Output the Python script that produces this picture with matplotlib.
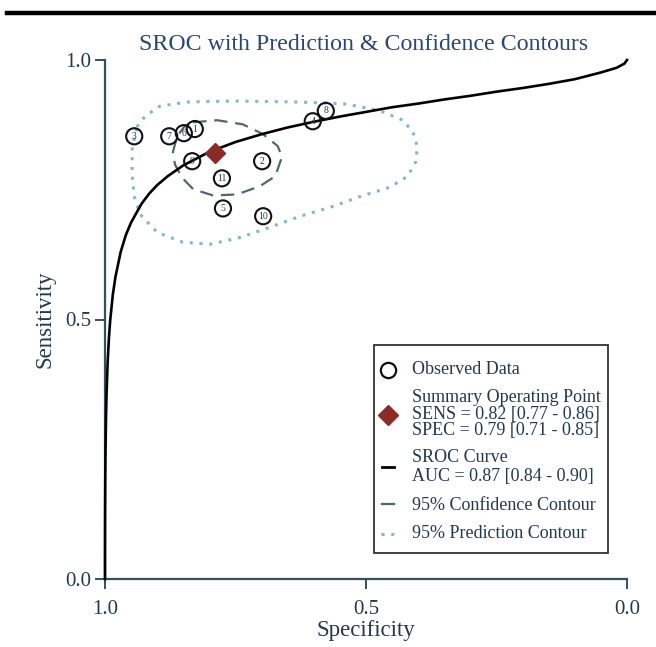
import matplotlib
matplotlib.use("Agg")
import matplotlib.pyplot as plt
from matplotlib.lines import Line2D
from matplotlib.patches import Rectangle

plt.rcParams['font.family'] = ['Liberation Serif', 'DejaVu Serif']

# ---------------- data ----------------
study_ids = ["1", "2", "3", "4", "5", "6", "7", "8", "9", "10", "11"]
study_spec = [0.828, 0.699, 0.944, 0.602, 0.774, 0.849, 0.877, 0.577, 0.833, 0.697, 0.776]
study_sens = [0.867, 0.805, 0.853, 0.882, 0.714, 0.859, 0.853, 0.902, 0.805, 0.699, 0.772]

summary_spec = 0.79
summary_sens = 0.82

# SROC curve (false positive rate -> sensitivity)
sroc_fpr = [0.0, 0.00001, 0.00005, 0.0001, 0.0002, 0.0005, 0.001, 0.002, 0.003, 0.005,
            0.0075, 0.01, 0.015, 0.02, 0.03, 0.04, 0.05, 0.07, 0.085, 0.10, 0.12, 0.15,
            0.20, 0.25, 0.30, 0.35, 0.40, 0.45, 0.50, 0.55, 0.60, 0.65, 0.70, 0.75,
            0.80, 0.85, 0.90, 0.95, 0.98, 0.995, 1.0]
sroc_sens = [0.0, 0.035, 0.072, 0.098, 0.131, 0.190, 0.247, 0.314, 0.357, 0.416,
             0.464, 0.499, 0.548, 0.582, 0.630, 0.663, 0.687, 0.723, 0.743, 0.759, 0.776, 0.797,
             0.823, 0.842, 0.857, 0.870, 0.881, 0.891, 0.900, 0.909, 0.916, 0.924, 0.931, 0.939,
             0.946, 0.954, 0.963, 0.976, 0.985, 0.993, 1.0]

# 95% confidence contour
conf_spec = [0.831, 0.785, 0.736, 0.697, 0.669, 0.661, 0.674, 0.703, 0.747, 0.793,
             0.831, 0.853, 0.866, 0.870, 0.862, 0.847, 0.831]
conf_sens = [0.880, 0.884, 0.876, 0.857, 0.834, 0.813, 0.776, 0.757, 0.741, 0.739,
             0.751, 0.774, 0.799, 0.822, 0.853, 0.873, 0.880]

# 95% prediction contour
pred_spec = [0.939, 0.923, 0.895, 0.843, 0.755, 0.626, 0.536, 0.473, 0.429, 0.410, 0.402,
             0.404, 0.420, 0.454, 0.511, 0.563, 0.626, 0.678, 0.741, 0.799, 0.851, 0.900,
             0.933, 0.944, 0.948, 0.948, 0.939]
pred_sens = [0.871, 0.892, 0.911, 0.919, 0.921, 0.919, 0.915, 0.902, 0.884, 0.861, 0.834,
             0.805, 0.776, 0.755, 0.737, 0.718, 0.699, 0.680, 0.658, 0.645, 0.649, 0.668,
             0.703, 0.737, 0.780, 0.828, 0.871]

title = "SROC with Prediction & Confidence Contours"
xlabel = "Specificity"
ylabel = "Sensitivity"
tick_vals = [0.0, 0.5, 1.0]
tick_labels = ["0.0", "0.5", "1.0"]
legend_lines = [
    ["Observed Data"],
    ["Summary Operating Point", "SENS = 0.82 [0.77 - 0.86]", "SPEC = 0.79 [0.71 - 0.85]"],
    ["SROC Curve", "AUC = 0.87 [0.84 - 0.90]"],
    ["95% Confidence Contour"],
    ["95% Prediction Contour"],
]

# ---------------- styling ----------------
W, H = 656, 647
TEXT = "#22384c"
TITLE = "#2a4672"
SPINE = "#34505c"
DIAMOND = "#8b2a2a"
CONF = "#4d6872"
PRED = "#86b6cc"

fig = plt.figure(figsize=(W / 100, H / 100), dpi=100)
fig.patch.set_facecolor("white")

def fx(px):
    return px / W

def fy(py):
    return 1 - py / H

ax = fig.add_axes([fx(105), fy(579), (627 - 105) / W, (579 - 60) / H])
ax.set_xlim(1.0, 0.0)
ax.set_ylim(0.0, 1.0)
for s in ("top", "right"):
    ax.spines[s].set_visible(False)
for s in ("left", "bottom"):
    ax.spines[s].set_color(SPINE)
    ax.spines[s].set_linewidth(1.6)
ax.set_xticks(tick_vals)
ax.set_xticklabels(tick_labels)
ax.set_yticks(tick_vals)
ax.set_yticklabels(tick_labels)
ax.tick_params(colors=SPINE, labelcolor=TEXT, labelsize=15, length=7, width=1.4)
ax.tick_params(axis="x", pad=8)
ax.tick_params(axis="y", pad=3)
ax.set_xlabel(xlabel, fontsize=16.5, color=TEXT, labelpad=1)
ax.set_ylabel(ylabel, fontsize=16.5, color=TEXT, labelpad=7)
fig.text(fx(364), fy(44), title, fontsize=17.2, color=TITLE, ha="center", va="center")

# prediction contour
ax.plot(pred_spec, pred_sens, linestyle=(0, (1, 2.2)), color=PRED, lw=2.2, zorder=2)
# confidence contour
ax.plot(conf_spec, conf_sens, linestyle=(0, (6, 3.5)), color=CONF, lw=1.6, zorder=3)
# SROC curve
sroc_spec = [1 - f for f in sroc_fpr]
ax.plot(sroc_spec, sroc_sens, color="black", lw=1.9, zorder=4, clip_on=False,
        solid_joinstyle="round")
# observed studies
ax.scatter(study_spec, study_sens, s=135, facecolors="none", edgecolors="#111111",
           linewidths=1.5, zorder=5)
for sid, sx, sy in zip(study_ids, study_spec, study_sens):
    ax.text(sx, sy, sid, fontsize=7, ha="center", va="center", color=TEXT, zorder=6)
# summary point
ax.plot([summary_spec], [summary_sens], marker="D", markersize=10, color=DIAMOND,
        linestyle="none", zorder=7)

# top rule
fig.add_artist(Line2D([fx(7), fx(656)], [fy(13), fy(13)], color="black", lw=3.2,
                      transform=fig.transFigure))

# ---------------- legend (manual) ----------------
fig.add_artist(Rectangle((fx(374), fy(553)), fx(608) - fx(374), fy(345) - fy(553),
                         transform=fig.transFigure, facecolor="white",
                         edgecolor="#333333", lw=1.3, zorder=10))
mx = 388
tx = 412
fs = 13.0
fig.add_artist(Line2D([fx(mx)], [fy(370)], marker="o", markersize=11, markerfacecolor="none",
                      markeredgecolor="#111111", markeredgewidth=1.6, linestyle="none",
                      transform=fig.transFigure, zorder=11))
group_y = [[370], [398, 415, 431], [458, 476], [505], [533]]
for lines, ys in zip(legend_lines, group_y):
    for t, yy in zip(lines, ys):
        fig.text(fx(tx), fy(yy), t, fontsize=fs, color=TEXT, ha="left", va="center", zorder=12)
fig.add_artist(Line2D([fx(mx)], [fy(415)], marker="D", markersize=10, color=DIAMOND,
                      linestyle="none", transform=fig.transFigure, zorder=11))
fig.add_artist(Line2D([fx(mx - 6), fx(mx + 6)], [fy(467), fy(467)], color="black", lw=2,
                      transform=fig.transFigure, zorder=11))
fig.add_artist(Line2D([fx(mx - 6), fx(mx + 6)], [fy(504), fy(504)], color=CONF, lw=1.6,
                      transform=fig.transFigure, zorder=11))
fig.add_artist(Line2D([fx(mx - 7), fx(mx + 7)], [fy(534), fy(534)], color=PRED, lw=2.2,
                      linestyle=(0, (1, 2.2)), transform=fig.transFigure, zorder=11))

fig.savefig("out.png", dpi=100, facecolor="white")
